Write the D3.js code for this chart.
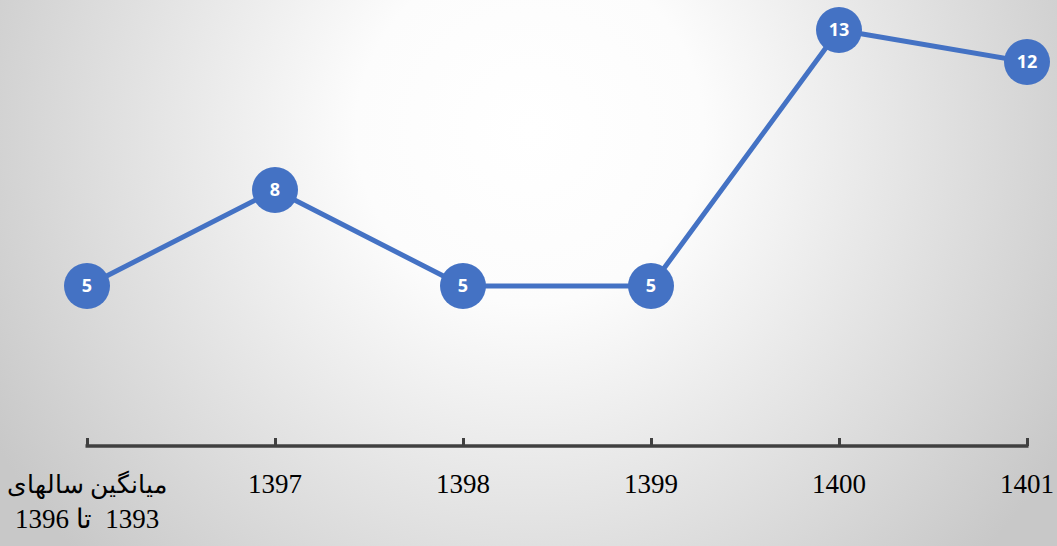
<!DOCTYPE html>
<html><head><meta charset="utf-8">
<script src="https://cdn.jsdelivr.net/npm/d3@7"></script>
<style>html,body{margin:0;padding:0;overflow:hidden;}svg{display:block;}</style>
</head><body><svg id="c" width="1057" height="546"></svg>
<script>
const categories = ["میانگین سالهای|1393  تا 1396", "1397", "1398", "1399", "1400", "1401"];
const values = [5, 8, 5, 5, 13, 12];

const W = 1057, H = 546;
const svg = d3.select("#c");
const defs = svg.append("defs");
const g = defs.append("radialGradient").attr("id", "bg")
  .attr("gradientUnits", "userSpaceOnUse")
  .attr("cx", 530).attr("cy", 130).attr("r", 620);
g.append("stop").attr("offset", "0").attr("stop-color", "#ffffff");
g.append("stop").attr("offset", "0.28").attr("stop-color", "#fcfcfc");
g.append("stop").attr("offset", "1").attr("stop-color", "#c8c8c8");
svg.append("rect").attr("width", W).attr("height", H).attr("fill", "url(#bg)");

const x = d3.scalePoint().domain(categories).range([87, 1027]);
const y = d3.scaleLinear().domain([0, 13]).range([446, 30]);

// axis
const axis = d3.axisBottom(x).tickSize(-8).tickFormat("");
const ax = svg.append("g").attr("transform", `translate(0,${y(0)})`).call(axis);
ax.select(".domain").remove();
ax.selectAll(".tick line").attr("stroke", "#404040").attr("stroke-width", 3);
ax.append("line").attr("x1", 85.5).attr("x2", 1028.5).attr("y1", 0).attr("y2", 0)
  .attr("stroke", "#404040").attr("stroke-width", 3.5);

// category labels
categories.forEach((c, i) => {
  const parts = c.split("|");
  const t = svg.append("text")
    .attr("x", x(c)).attr("y", 493)
    .attr("text-anchor", "middle")
    .attr("font-family", "Liberation Serif, Times New Roman, serif")
    .attr("font-size", 27).attr("fill", "#000");
  if (parts.length === 1) {
    t.text(parts[0]);
  } else {
    t.attr("direction", "rtl").attr("unicode-bidi", "plaintext").style("white-space", "pre");
    parts.forEach((p, j) => {
      t.append("tspan").attr("x", x(c)).attr("dy", j === 0 ? 0 : 35)
        .attr("font-size", j === 0 ? 25 : 27).text(p);
    });
  }
});

// line
const line = d3.line().x((d, i) => x(categories[i])).y(d => y(d));
svg.append("path").datum(values).attr("d", line)
  .attr("fill", "none").attr("stroke", "#4472C4").attr("stroke-width", 5)
  .attr("stroke-linejoin", "round");

// markers
const m = svg.selectAll(".m").data(values).join("g")
  .attr("transform", (d, i) => `translate(${x(categories[i])},${y(d)})`);
m.append("circle").attr("r", 23).attr("fill", "#4472C4");
m.append("text").attr("text-anchor", "middle").attr("dy", "0.36em")
  .attr("font-family", "Open Sans, Lato, sans-serif").attr("font-weight", "bold")
  .attr("font-size", 18).attr("fill", "#fff").text(d => d);
</script></body></html>
